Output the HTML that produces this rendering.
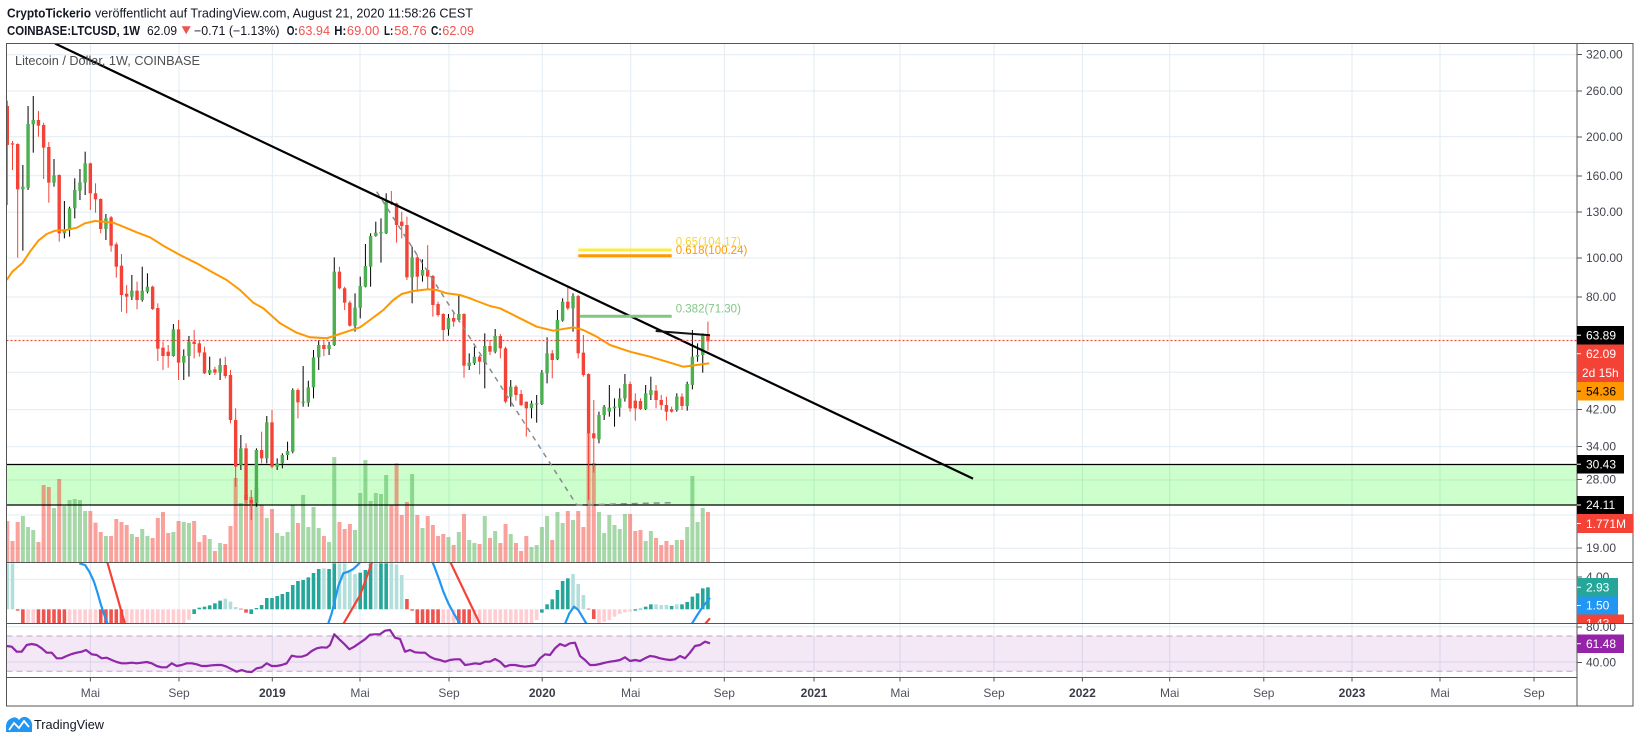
<!DOCTYPE html>
<html><head><meta charset="utf-8"><title>LTCUSD 1W</title>
<style>
html,body{margin:0;padding:0;background:#fff;}
body{width:1640px;height:743px;overflow:hidden;position:relative}
svg{position:absolute;left:0;top:0;font-family:"Liberation Sans",Arial,sans-serif}
</style></head><body>
<svg id="s" width="1640" height="743" viewBox="0 0 1640 743" xmlns="http://www.w3.org/2000/svg">
<defs>
 <clipPath id="cm"><rect x="6.5" y="43.5" width="1570.5" height="518.5"/></clipPath>
 <clipPath id="cd"><rect x="6.5" y="562.5" width="1570.5" height="60.5"/></clipPath>
 <clipPath id="cr"><rect x="6.5" y="623.5" width="1570.5" height="53.5"/></clipPath>
 <clipPath id="cl143"><rect x="1577" y="614" width="60" height="9"/></clipPath>
</defs>
<rect width="1640" height="743" fill="#fff"/>
<g id="grid"></g>
<!-- RSI band -->
<rect x="6.5" y="636" width="1570.5" height="35.3" fill="rgba(156,39,176,0.11)"/>
<line x1="6.5" x2="1577" y1="636" y2="636" stroke="#b9abc2" stroke-width="1" stroke-dasharray="6,4"/>
<line x1="6.5" x2="1577" y1="671.3" y2="671.3" stroke="#b9abc2" stroke-width="1" stroke-dasharray="6,4"/>
<!-- green zone -->
<rect x="6.5" y="464.5" width="1570.5" height="40.5" fill="rgba(0,255,0,0.2)"/>
<g id="vol" clip-path="url(#cm)"></g>
<line x1="6.5" x2="1577" y1="464.5" y2="464.5" stroke="#000" stroke-width="1.3"/>
<line x1="6.5" x2="1577" y1="505" y2="505" stroke="#000" stroke-width="1.3"/>
<g id="cnd" clip-path="url(#cm)"></g>
<g id="ema" clip-path="url(#cm)"></g>
<g id="draw" clip-path="url(#cm)">
 <line x1="376.7" y1="191.7" x2="576.7" y2="505" stroke="#8a8a8a" stroke-width="1.5" stroke-dasharray="5,5"/>
 <line x1="576.7" y1="505" x2="671.7" y2="502.7" stroke="#8a8a8a" stroke-width="1.5" stroke-dasharray="6,5"/>
 <line x1="55" y1="43.5" x2="973" y2="478.6" stroke="#000" stroke-width="2.2"/>
 <line x1="655.7" y1="331" x2="710" y2="335.3" stroke="#111" stroke-width="2"/>
 <line x1="578.3" y1="250" x2="671.7" y2="250" stroke="#ffeb3b" stroke-width="3"/>
 <line x1="578.3" y1="255.7" x2="671.7" y2="255.7" stroke="#ff9800" stroke-width="3"/>
 <line x1="580" y1="316.2" x2="671.7" y2="316.2" stroke="#81c784" stroke-width="3"/>
 <text x="675.7" y="245.5" font-size="11.5" fill="#f3d83a">0.65(104.17)</text>
 <text x="675.7" y="254" font-size="11.5" fill="#ff9800">0.618(100.24)</text>
 <text x="675.7" y="312.3" font-size="11.5" fill="#81c784">0.382(71.30)</text>
 <line x1="6.5" x2="1577" y1="340.5" y2="340.5" stroke="#f44336" stroke-width="1.2" stroke-dasharray="2,2"/>
</g>
<g id="macd" clip-path="url(#cd)"></g>
<g id="rsi" clip-path="url(#cr)"></g>

<!-- frame -->
<g stroke="#555" stroke-width="1" fill="none">
 <rect x="6.5" y="43.5" width="1626.5" height="662.5"/>
 <line x1="1577" y1="43.5" x2="1577" y2="706"/>
 <line x1="6.5" y1="562.5" x2="1633" y2="562.5"/>
 <line x1="6.5" y1="623.5" x2="1633" y2="623.5"/>
 <line x1="6.5" y1="677.5" x2="1577" y2="677.5"/>
</g>
<g id="ticks" stroke="#555" stroke-width="1"></g>

<!-- header -->
<g font-size="12.5" fill="#131722">
 <text x="7" y="17.5" font-weight="bold" textLength="84" lengthAdjust="spacingAndGlyphs">CryptoTickerio</text>
 <text x="95" y="17.5" textLength="378" lengthAdjust="spacingAndGlyphs">veröffentlicht auf TradingView.com, August 21, 2020 11:58:26 CEST</text>
 <text x="7" y="34.8" font-weight="bold" textLength="133" lengthAdjust="spacingAndGlyphs">COINBASE:LTCUSD, 1W</text>
 <text x="147" y="34.8" textLength="30" lengthAdjust="spacingAndGlyphs">62.09</text>
 <text x="194" y="34.8" textLength="85.5" lengthAdjust="spacingAndGlyphs">−0.71 (−1.13%)</text>
 <text x="286.7" y="34.8" font-weight="bold" textLength="11" lengthAdjust="spacingAndGlyphs">O:</text>
 <text x="298.3" y="34.8" fill="#ef5350" textLength="31.7" lengthAdjust="spacingAndGlyphs">63.94</text>
 <text x="334.3" y="34.8" font-weight="bold" textLength="12" lengthAdjust="spacingAndGlyphs">H:</text>
 <text x="346.9" y="34.8" fill="#ef5350" textLength="32.4" lengthAdjust="spacingAndGlyphs">69.00</text>
 <text x="384" y="34.8" font-weight="bold" textLength="9.3" lengthAdjust="spacingAndGlyphs">L:</text>
 <text x="394.3" y="34.8" fill="#ef5350" textLength="32.4" lengthAdjust="spacingAndGlyphs">58.76</text>
 <text x="431" y="34.8" font-weight="bold" textLength="10.7" lengthAdjust="spacingAndGlyphs">C:</text>
 <text x="442.3" y="34.8" fill="#ef5350" textLength="31.7" lengthAdjust="spacingAndGlyphs">62.09</text>
</g>
<polygon points="181.7,26.3 190.7,26.3 186.2,34.3" fill="#ef5350"/>
<text x="15" y="65" font-size="12.5" fill="#4f4f4f" textLength="185" lengthAdjust="spacingAndGlyphs">Litecoin / Dollar, 1W, COINBASE</text>

<!-- price axis labels -->
<g font-size="12" fill="#434651">
 <text x="1586" y="58.7">320.00</text>
 <text x="1586" y="95.2">260.00</text>
 <text x="1586" y="141.2">200.00</text>
 <text x="1586" y="180.2">160.00</text>
 <text x="1586" y="216.2">130.00</text>
 <text x="1586" y="262.2">100.00</text>
 <text x="1586" y="301.2">80.00</text>
 <text x="1586" y="413.7">42.00</text>
 <text x="1586" y="450.7">34.00</text>
 <text x="1586" y="483.7">28.00</text>
 <text x="1586" y="552.2">19.00</text>
 <text x="1586" y="581.2">4.00</text>
 <text x="1586" y="631.2">80.00</text>
 <text x="1586" y="666.7">40.00</text>
</g>
<!-- colored labels -->
<g font-size="12" fill="#fff">
 <rect x="1577" y="326" width="47" height="18.5" fill="#000"/><text x="1586" y="339.4">63.89</text>
 <rect x="1577" y="344.5" width="47" height="18.5" fill="#f44336"/><text x="1586" y="357.9">62.09</text>
 <rect x="1577" y="363" width="47" height="19" fill="#f44336"/><text x="1582" y="376.8">2d 15h</text>
 <rect x="1577" y="382" width="47" height="18.5" fill="#ff9800"/><text x="1586" y="395.5" fill="#000">54.36</text>
 <rect x="1577" y="455" width="47" height="18.5" fill="#000"/><text x="1586" y="468.4">30.43</text>
 <rect x="1577" y="496" width="47" height="18" fill="#000"/><text x="1586" y="509.2">24.11</text>
 <rect x="1577" y="514" width="56" height="19" fill="#f44336"/><text x="1586" y="527.8">1.771M</text>
 <rect x="1577" y="578" width="41" height="18.5" fill="#26a69a"/><text x="1586" y="591.4">2.93</text>
 <rect x="1577" y="596.5" width="41" height="18" fill="#2196f3"/><text x="1586" y="609.7">1.50</text>
 <g clip-path="url(#cl143)"><rect x="1577" y="614.5" width="47" height="18" fill="#f44336"/><text x="1586" y="627.7">1.43</text></g>
 <rect x="1577" y="634.5" width="47" height="18.5" fill="#9423a8"/><text x="1586" y="647.9">61.48</text>
</g>
<g stroke="#fff" stroke-width="1">
 <line x1="1577" x2="1581" y1="335.2" y2="335.2"/><line x1="1577" x2="1581" y1="353.7" y2="353.7"/>
 <line x1="1577" x2="1581" y1="464.2" y2="464.2"/>
 <line x1="1577" x2="1581" y1="505" y2="505"/><line x1="1577" x2="1581" y1="523.5" y2="523.5"/>
 <line x1="1577" x2="1581" y1="587.2" y2="587.2"/><line x1="1577" x2="1581" y1="605.5" y2="605.5"/>
 <line x1="1577" x2="1581" y1="643.7" y2="643.7"/>
</g>
<line x1="1577" x2="1581" y1="391.2" y2="391.2" stroke="#000"/>

<!-- time axis labels -->
<g font-size="12" fill="#50535e" text-anchor="middle">
 <text x="90.4" y="697.2">Mai</text>
 <text x="179" y="697.2">Sep</text>
 <text x="272.3" y="697.2" font-weight="bold" fill="#3a3d47">2019</text>
 <text x="360" y="697.2">Mai</text>
 <text x="449" y="697.2">Sep</text>
 <text x="542.2" y="697.2" font-weight="bold" fill="#3a3d47">2020</text>
 <text x="630.7" y="697.2">Mai</text>
 <text x="724.3" y="697.2">Sep</text>
 <text x="814" y="697.2" font-weight="bold" fill="#3a3d47">2021</text>
 <text x="900" y="697.2">Mai</text>
 <text x="994" y="697.2">Sep</text>
 <text x="1082.4" y="697.2" font-weight="bold" fill="#3a3d47">2022</text>
 <text x="1169.7" y="697.2">Mai</text>
 <text x="1263.8" y="697.2">Sep</text>
 <text x="1352" y="697.2" font-weight="bold" fill="#3a3d47">2023</text>
 <text x="1440" y="697.2">Mai</text>
 <text x="1534" y="697.2">Sep</text>
</g>

<!-- footer logo -->
<path d="M6,732 L6,727 Q6,720 12,718 Q16,716 19,720 Q23,715 28,718 Q33,721 32,728 L32,732 Z" fill="#2196f3"/>
<polyline points="9,730 14,723 19,728 24,721 29,727" fill="none" stroke="#fff" stroke-width="1.8"/>
<text x="34" y="729" font-size="13" fill="#131722" textLength="70" lengthAdjust="spacingAndGlyphs">TradingView</text>
</svg>
<script>
(function(){
var NS='http://www.w3.org/2000/svg';
function E(t,a,p){var e=document.createElementNS(NS,t);for(var k in a)e.setAttribute(k,a[k]);p.appendChild(e);return e;}
function G(id){return document.getElementById(id);}
function rep(v,n){var a=[];for(var i=0;i!==n;i++)a.push(v);return a;}

// grid
var grid=G('grid');
var VX=[90.4,179,272.3,360,449,542.2,630.7,724.3,814,900,994,1082.4,1169.7,1263.8,1352,1440,1534];
var HY=[54.7,91,136.8,175.8,212.1,258,297,336,372.3,409.6,446.6,480,515,548.3,579.3,626.7,662];
VX.forEach(function(x){E('line',{x1:x,x2:x,y1:43.5,y2:677.5,stroke:'#e1ebf2','stroke-width':1},grid);});
HY.forEach(function(y){E('line',{x1:6.5,x2:1577,y1:y,y2:y,stroke:'#e1ebf2','stroke-width':1},grid);});
var ticks=G('ticks');
VX.forEach(function(x){E('line',{x1:x,x2:x,y1:677.5,y2:681.5},ticks);});
[54.5,91,137,176,212,258,297,409.5,446.5,479.5,548,577,627,662.5].forEach(function(y){E('line',{x1:1577,x2:1582,y1:y,y2:y},ticks);});

// candles (zoom coords)
var A=[[78,62,375,195],[190,183,270,193],[192,190,533,328],[328,255,512,320],[323,78,330,132],[133,48,218,120],[120,93,170,137],[135,128,297,203],[201,186,368,308],[308,237,320,286],[285,283,485,460],[460,363,475,450],[450,380,470,385],[385,295,415,330],[332,267,360,307],[308,215,345,250],[250,248,390,340],[340,310,398,358],[357,355,460,447],[447,402,480,415],[412,408,515,497],[493,487,593,560],[557,522,695,645],[641,615,700,650],[650,585,660,632],[632,605,688,660],[660,560,665,632],[635,580,640,620],[620,617,690,687],[684,670,843,806],[803,785,870,828],[815,795,863,828],[828,732,830,748],[748,720,900,848],[848,808,900,828],[828,768,890,785],[785,750,835,792],[790,780,830,818],[817,800,882,880],[880,830,885,870],[868,860,885,878],[878,835,900,855],[855,830,895,888]];
var B=[[615,600,760,750],[750,715,950,890],[885,795,900,835],[835,820,1000,990],[990,960,1050,1000],[1000,835,1010,840],[840,785,880,865],[865,738,880,757],[757,720,895,890],[890,865,900,880],[880,850,895,855],[855,815,870,843],[845,655,850,660],[660,655,745,697],[698,588,710,695],[698,632,710,652],[652,540,685,562],[562,510,600,525],[525,510,558,537],[537,515,555,525],[525,262,528,305],[305,290,358,355],[355,350,420,398],[398,392,470,467],[467,370,485,413],[413,320,445,348],[350,222,352,288],[290,190,350,198],[198,155,200,188],[190,145,278,186],[190,70,192,95],[95,63,105,100],[100,98,218,165],[155,125,205,168],[165,140,330,322],[322,230,400,262],[262,255,365,320],[317,268,335,300],[300,225,360,320],[318,315,440,405],[402,395,440,435],[432,430,510,480],[478,432,497,444],[444,425,470,455],[450,372,455,432],[432,430,623,587],[588,550,600,578],[580,530,585,560],[560,555,613,575],[577,490,655,528]];
var C=[[348,330,375,365],[365,297,370,318],[318,312,385,355],[355,350,520,515],[500,450,530,470],[470,465,512,495],[492,480,528,525],[515,515,620,535],[535,512,565,520],[523,495,578,520],[522,420,525,428],[430,322,460,370],[370,360,445,390],[388,240,390,270],[272,205,275,215],[215,168,240,235],[235,190,305,198],[198,195,385,370],[368,315,440,435],[432,430,810,610],[610,510,728,625],[628,545,640,555],[555,525,570,530],[545,465,560,533],[535,505,590,530],[533,475,560,505],[505,432,515,462],[462,455,545,535],[512,490,572,535],[513,505,540,537],[537,465,540,490],[495,440,510,480],[482,465,535,510],[510,495,540,525],[525,500,572,545],[538,530,548,545],[540,490,545,500],[500,490,540,528],[528,455,542,462],[465,300,478,380],[380,340,395,375],[375,310,428,315],[313,275,362,334]];
function conv(arr,b){return arr.map(function(a){return a.map(function(z){return b+z/3;});});}
var K=[].concat(conv(A,80),conv(B,170),conv(C,230));
function X(i){return 7.3+5.19*i;}

// volume
var V=[153,213,156,138,171,180,216,45,51,114,27,108,90,87,90,123,123,158,186,198,198,147,156,165,192,201,177,198,204,144,126,189,186,153,156,159,153,216,195,207,243,219,222,168,24,99,75,81,54,105,144,117,189,198,186,105,159,75,171,111,174,198,216,-39,156,177,162,180,69,
-30,93,69,72,15,105,-20,135,96,12,135,174,138,165,198,192,201,225,186,132,210,219,222,138,204,183,219,162,192,219,243,198,231,225,171,138,210,126,159,123,150,123,171,-111,-21,126,189,135,165,177,132,132,183,180,213,183,204,225,213,225,210,210,171,18,156,114,126];
var vol=G('vol');
V.forEach(function(z,i){var top=470+z/3;var c=K[i];var up=c&&(c[0]-c[3]>0);
 E('rect',{x:X(i)-2,y:top,width:4,height:562-top,fill:up?'rgba(76,175,80,0.5)':'rgba(244,67,54,0.5)'},vol);});

var cnd=G('cnd');
K.forEach(function(c,i){var o=c[0],h=c[1],l=c[2],cl=c[3];var up=(o-cl)>0;
 var hi=Math.min(h,o,cl),lo=Math.max(l,o,cl);var x=X(i);
 E('line',{x1:x,x2:x,y1:hi,y2:lo,stroke:up?'#000':'#f44336','stroke-width':1},cnd);
 var top=Math.min(o,cl),bh=Math.max(Math.abs(o-cl),1.2);
 E('rect',{x:x-1.7,y:top,width:3.4,height:bh,fill:up?'#4caf50':'#f44336'},cnd);});

// EMA
var EM=[[6.7,280],[12.3,271.7],[22.7,262.7],[30,251.7],[38.3,240.7],[46.7,234],[55,230.7],[66.7,230],[76.7,227.7],[85,223.3],[95,221],[103.3,221.7],[113.3,222.7],[123.3,226.7],[136.7,232.3],[150,237.3],[163.3,245.7],[180,255],[196.7,263.3],[213.3,272.7],[226.7,280],[240,290],[253.3,302.7],[263.3,308.3],[280,323.3],[296.7,332.7],[310,337.3],[326.7,338.3],[336.7,335],[346.7,331.7],[360,327.3],[370,320],[383.3,310],[393.3,300],[401.7,294],[413.3,291],[428.3,289.3],[436.7,290],[446.7,293.3],[460,295],[470,298.3],[476.7,301],[490,306],[500,308.3],[520,318.3],[536.7,326.7],[553.3,330.7],[573.3,327.3],[583.3,330],[596.7,336.7],[610,345],[630,351.7],[650,356.7],[670,362.7],[683.3,366.7],[696.7,365],[709.3,363.3]];
E('polyline',{points:EM.map(function(p){return p.join(',');}).join(' '),fill:'none',stroke:'#ff9800','stroke-width':2,'stroke-linejoin':'round'},G('ema'));

// MACD
var macd=G('macd');
var HT="ttRRrrRRRRRRrrrrrrRRRRRrrrrrrrrrrrrrTTTTTTtttRRTTTTTTTTTTTTTTtTTttttTTTtTTtttRRRRRRRrrrRRRrrrrrrrrrrrrrTTTTTTtttRRrrrrrrrTTTTtttTtTTTTT";
var HV=[280,280,422].concat(rep(460,32),[450,432,413,410,406,400,392,386,395,411,416,428,432,414,405,384,384,378,372,366,345,333,330,322,309,297,295,297,280,280,280,300,312,308,300,280,280,280,280,280,283,315,387,422],rep(460,23),[450,428,403,388,360,333,325,312,342,375,416,447,460,455,450,440,432,427,425,422,416,410,403,403,405,405,408,403,403,396,380,370,355,352]);
var HC={T:'#26a69a',t:'#b2dfdb',R:'#ef5350',r:'#ffcdd2'};
var Z0=609.3;
HV.forEach(function(z,i){var y=470+z/3;var t=HT.charAt(i)||'T';
 E('rect',{x:X(i)-1.8,y:Math.min(y,Z0),width:3.6,height:Math.max(Math.abs(y-Z0),0.8),fill:HC[t]||'#26a69a'},macd);});
function seg(pts,off,col){E('polyline',{points:pts.map(function(p){return (off+p[0]/3)+','+(470+p[1]/3);}).join(' '),fill:'none',stroke:col,'stroke-width':2.2,'stroke-linejoin':'round'},macd);}
var BL='#2196f3',RD='#f44336';
seg([[238,280],[255,285],[268,305],[282,335],[293,370],[303,405],[313,435],[322,460]],0,BL);
seg([[985,460],[995,430],[1005,390],[1015,348],[1030,310],[1045,305],[1060,297],[1075,283],[1090,265]],0,BL);
seg([[215,270],[225,295],[238,330],[250,365],[265,400],[280,428],[300,462]],360,BL);
seg([[615,462],[628,430],[642,410],[655,420],[668,442],[680,462]],360,BL);
seg([[995,462],[1010,438],[1025,415],[1040,396],[1050,383]],360,BL);
seg([[320,270],[375,462]],0,RD);
seg([[1030,462],[1080,376],[1115,280],[1120,265]],0,RD);
seg([[268,270],[360,462]],360,RD);
seg([[1035,462],[1050,445]],360,RD);

// RSI
var R1=[[20,528],[35,530],[50,545],[65,545],[80,525],[95,522],[110,525],[125,535],[140,548],[155,548],[170,565],[185,565],[200,558],[215,552],[230,548],[245,545],[258,540],[275,553],[290,555],[305,565],[320,563],[335,570],[350,576],[365,580],[380,580],[395,578],[410,580],[425,578],[440,576],[455,580],[470,588],[485,592],[500,592],[515,580],[530,588],[545,585],[560,580],[575,580],[590,583],[605,588],[620,588],[635,586],[650,585],[665,585],[680,590],[695,598],[710,605],[725,600],[740,605],[755,606],[770,595],[785,592],[800,580],[815,588],[830,588],[845,585],[860,580],[875,557],[890,560],[905,560],[920,555],[935,543],[950,535],[965,532],[980,533],[990,525],[1003,493],[1018,508],[1033,522],[1048,538],[1063,530]];
var R2=[[0,518],[15,508],[30,494],[45,493],[60,493],[75,482],[90,480],[105,503],[120,507],[135,545],[150,540],[165,547],[180,548],[195,548],[210,560],[225,567],[240,570],[255,575],[270,570],[285,568],[300,568],[315,585],[330,583],[345,580],[360,582],[375,575],[390,575],[405,567],[420,575],[435,590],[450,585],[465,585],[480,588],[495,590],[510,588],[525,585],[540,565],[555,553],[570,555],[585,535],[600,522],[615,528],[630,520],[645,518],[660,558],[675,570],[690,585],[705,585],[720,582],[735,578],[750,575],[765,573],[780,570],[795,562],[810,573],[825,570],[840,573],[855,565],[870,558],[885,560],[900,565],[915,568],[930,570],[945,568],[960,558],[975,565],[990,548],[1005,528],[1020,525],[1035,515],[1050,520]];
var rp=R1.map(function(p){return [p[0]/3,470+p[1]/3];}).concat(R2.map(function(p){return [360+p[0]/3,470+p[1]/3];}));
E('polyline',{points:rp.map(function(p){return p[0].toFixed(1)+','+p[1].toFixed(1);}).join(' '),fill:'none',stroke:'#9027a8','stroke-width':2.2,'stroke-linejoin':'round'},G('rsi'));
})();
</script>
</body></html>
